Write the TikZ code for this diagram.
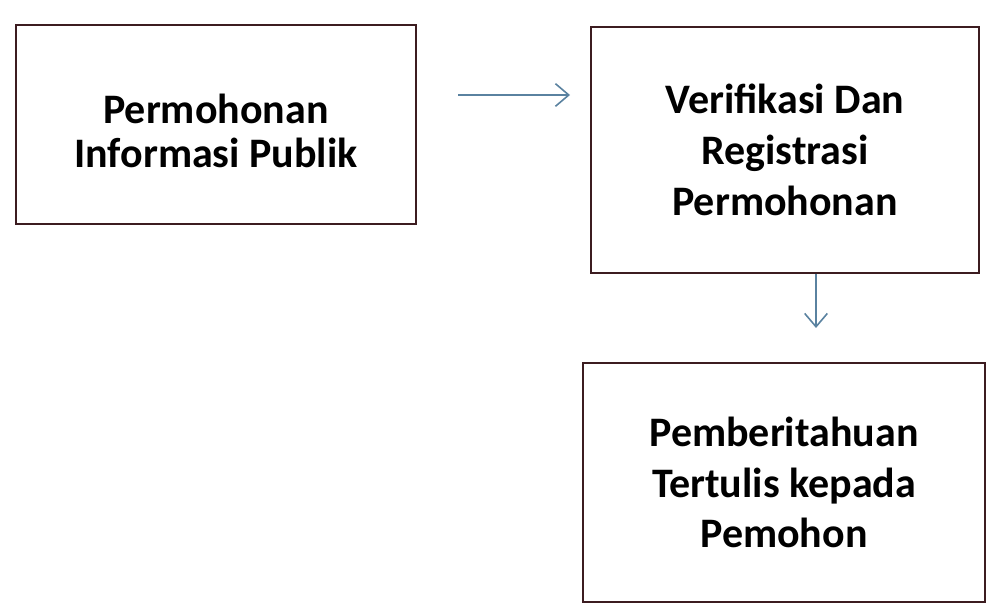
\documentclass[tikz,border=0pt]{standalone}
\usepackage{fontspec}
\setmainfont{Carlito}
\usetikzlibrary{arrows.meta}
\definecolor{boxline}{RGB}{60,28,32}
\definecolor{arrowc}{RGB}{90,130,160}
\begin{document}
\begin{tikzpicture}[x=0.75pt,y=-0.75pt,
  flowbox/.style={draw=boxline,line width=2.2pt,fill=white,align=center,
    font=\fontsize{31.5}{38}\selectfont\bfseries,inner sep=0pt},
  flowarrow/.style={draw=arrowc,line width=1.5pt,-{Straight Barb[length=10pt,width=17pt,line width=1.2pt]}}]
\useasboundingbox (0,0) rectangle (988,616);
\node[flowbox,minimum width=400*0.75pt,minimum height=199*0.75pt] (a) at (216,124.5)
  {\raisebox{-9.5pt}[\height][\depth]{\fontsize{31.5}{33}\selectfont\bfseries\begin{tabular}{@{}c@{}}Permohonan\\Informasi Publik\end{tabular}}};
\node[flowbox,minimum width=388*0.75pt,minimum height=246*0.75pt] (b) at (785,150) {Verifikasi Dan\\Registrasi\\Permohonan};
\node[flowbox,minimum width=402*0.75pt,minimum height=239*0.75pt] (c) at (784,482.5) {Pemberitahuan\\Tertulis kepada\\Pemohon};
\coordinate (h1) at (458,95);
\coordinate (h2) at (570,95);
\draw[flowarrow] (h1) -- (h2);
\coordinate (v2) at (816,328);
\draw[flowarrow] (b.south -| v2) -- (v2);
\end{tikzpicture}
\end{document}
